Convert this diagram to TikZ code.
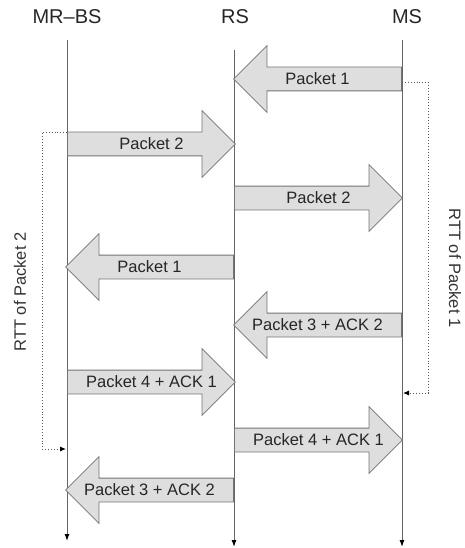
\documentclass[tikz,border=0pt]{standalone}
\usepackage{fontspec}
\setsansfont{Liberation Sans}
\usetikzlibrary{arrows.meta,shapes.arrows,calc}
\tikzset{>={Latex[length=7pt,width=5pt,black]},
  every picture/.append style={x=1pt,y=-1pt},
  head/.style={font=\sffamily\fontsize{20}{22}\selectfont,text=black!85},
  lifeline/.style={draw=black!60,line width=1pt,->},
  pkt/.style={single arrow,draw=black!55,fill=black!13,line width=0.8pt,
    minimum height=168pt,minimum width=66pt,single arrow head extend=21.5pt,
    inner xsep=0pt,inner ysep=5.75pt,text height=11.5pt,text depth=0pt,
    anchor=tail},
  pktleft/.style={pkt,shape border rotate=180},
  pkttext/.style={inner sep=0pt,text height=11.5pt,text depth=0pt,
    text=black!85,font=\sffamily\fontsize{16.5}{18}\selectfont},
  rtt/.style={draw=black!65,dotted,line width=0.9pt,
    -{Latex[length=6pt,width=5pt,black]}},
  rttlabel/.style={text=black!80,font=\sffamily\fontsize{16.5}{18}\selectfont}
}
\begin{document}
\begin{tikzpicture}
    \useasboundingbox (0,0) rectangle (464,548);
    % stations
    \node [head] (bs) at (67,17) {MR--BS};
    \node [head] (rs) at (235,17) {RS};
    \node [head] (ms) at (407,17) {MS};
    \coordinate (bs-top) at (67,40);
    \coordinate (bs-end) at (67,541);
    \coordinate (rs-top) at (234,50);
    \coordinate (rs-end) at (234,547);
    \coordinate (ms-top) at (402,40);
    \coordinate (ms-end) at (402,547);
    \draw [lifeline] (bs-top) -- (bs-end);
    \draw [lifeline] (rs-top) -- (rs-end);
    \draw [lifeline] (ms-top) -- (ms-end);
    % packets, placed by their tails
    \node [pktleft] (p1a) at (402,79) {};
    \node [pkt] (p2a) at (67,144) {};
    \node [pkt] (p2b) at (234,198) {};
    \node [pktleft] (p1b) at (234,267) {};
    \node [pktleft] (p3a) at (402,325) {};
    \node [pkt] (p4a) at (67,382) {};
    \node [pkt] (p4b) at (234,440) {};
    \node [pktleft] (p3b) at (234,490) {};
    % packet names, centred between tail and tip
    \node [pkttext] (p1a-t) at ($(p1a.tail)!.5!(p1a.tip)$) {Packet 1};
    \node [pkttext] (p2a-t) at ($(p2a.tail)!.5!(p2a.tip)$) {Packet 2};
    \node [pkttext] (p2b-t) at ($(p2b.tail)!.5!(p2b.tip)$) {Packet 2};
    \node [pkttext] (p1b-t) at ($(p1b.tail)!.5!(p1b.tip)$) {Packet 1};
    \node [pkttext] (p3a-t) at ($(p3a.tail)!.5!(p3a.tip)$) {Packet 3 + ACK 2};
    \node [pkttext] (p4a-t) at ($(p4a.tail)!.5!(p4a.tip)$) {Packet 4 + ACK 1};
    \node [pkttext] (p4b-t) at ($(p4b.tail)!.5!(p4b.tip)$) {Packet 4 + ACK 1};
    \node [pkttext] (p3b-t) at ($(p3b.tail)!.5!(p3b.tip)$) {Packet 3 + ACK 2};
    % round trip times
    \coordinate (t1s) at (402,82);
    \coordinate (t1e) at (403,393);
    \draw [rtt] (t1s) -- (428,82) |- (t1e);
    \node [rttlabel,rotate=-90] (rtt1) at (455,268) {RTT of Packet 1};
    \coordinate (t2s) at (67,132);
    \coordinate (t2e) at (66,449);
    \draw [rtt] (t2s) -- (42,132) |- (t2e);
    \node [rttlabel,rotate=90] (rtt2) at (20,292) {RTT of Packet 2};
\end{tikzpicture}
\end{document}
